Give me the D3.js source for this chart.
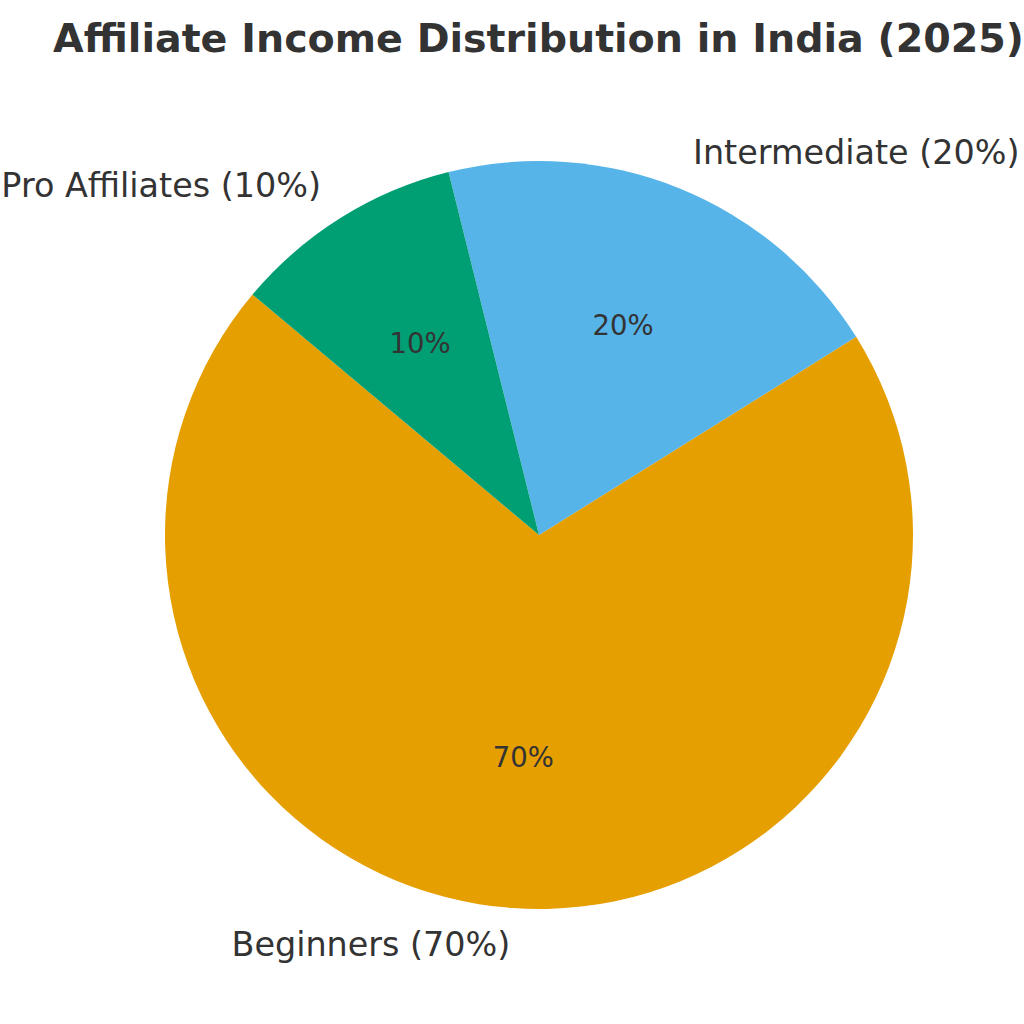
<!DOCTYPE html>
<html>
<head>
<meta charset="utf-8">
<script src="https://cdn.jsdelivr.net/npm/d3@7"></script>
<style>
  html, body { margin: 0; padding: 0; background: #ffffff; }
  svg { display: block; }
  text { font-family: "DejaVu Sans", sans-serif; fill: #333333; }
</style>
</head>
<body>
<svg id="chart" width="1024" height="1024"></svg>
<script>
const categories = ["Beginners", "Intermediate", "Pro Affiliates"];
const values = [70, 20, 10];
const colors = ["#E69F00", "#56B4E9", "#009E73"];
const titleText = "Affiliate Income Distribution in India (2025)";

const svg = d3.select("#chart");
const W = 1024, H = 1024;
const cx = 539, cy = 535, R = 374;
const startDeg = 140; // matplotlib startangle, counterclockwise

svg.append("rect").attr("width", W).attr("height", H).attr("fill", "#ffffff");

svg.append("text")
  .attr("x", 538.5).attr("y", 52)
  .attr("text-anchor", "middle")
  .style("font-size", "39.6px").style("font-weight", "bold")
  .text(titleText);

const data = categories.map((c, i) => ({ name: c, value: values[i], color: colors[i] }));

const toD3 = deg => (90 - deg) * Math.PI / 180;
const total = d3.sum(values);
const angScale = d3.scaleLinear().domain([0, total]).range([startDeg, startDeg + 360]);

let cum = 0;
const slices = data.map(d => {
  const a0 = angScale(cum); cum += d.value; const a1 = angScale(cum);
  return { ...d, a0, a1, mid: (a0 + a1) / 2 };
});

const g = svg.append("g").attr("transform", `translate(${cx},${cy})`);
const arc = d3.arc().innerRadius(0).outerRadius(R);

g.selectAll("path.slice").data(slices).enter().append("path")
  .attr("class", "slice")
  .attr("d", d => arc({ startAngle: toD3(d.a1), endAngle: toD3(d.a0) }))
  .attr("fill", d => d.color);

g.selectAll("text.lbl").data(slices).enter().append("text")
  .attr("class", "lbl")
  .attr("x", d => 1.1 * R * Math.cos(d.mid * Math.PI / 180))
  .attr("y", d => -1.1 * R * Math.sin(d.mid * Math.PI / 180) - 1)
  .attr("text-anchor", d => Math.cos(d.mid * Math.PI / 180) >= 0 ? "start" : "end")
  .attr("dominant-baseline", "central")
  .style("font-size", "33.4px")
  .text(d => `${d.name} (${d.value}%)`);

g.selectAll("text.pct").data(slices).enter().append("text")
  .attr("class", "pct")
  .attr("x", d => 0.6 * R * Math.cos(d.mid * Math.PI / 180))
  .attr("y", d => -0.6 * R * Math.sin(d.mid * Math.PI / 180) - 1.5)
  .attr("text-anchor", "middle")
  .attr("dominant-baseline", "central")
  .style("font-size", "27.5px")
  .text(d => `${d.value}%`);
</script>
</body>
</html>
